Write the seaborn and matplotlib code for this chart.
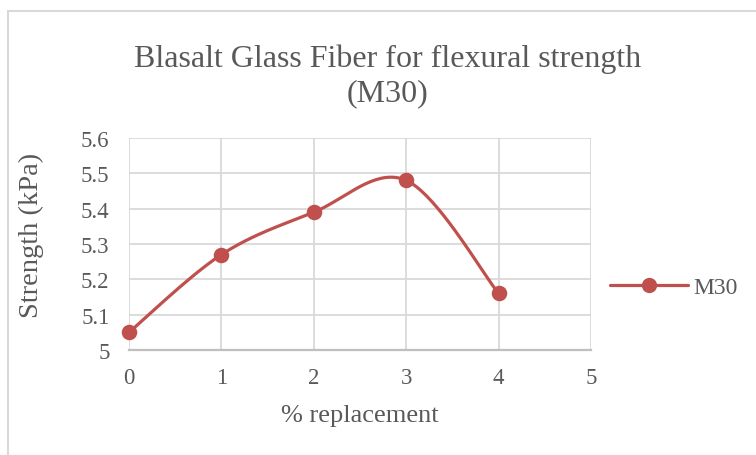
import numpy as np
import pandas as pd
import matplotlib
matplotlib.use("Agg")
import matplotlib.pyplot as plt
from matplotlib.lines import Line2D
from matplotlib.patches import Rectangle
import seaborn as sns

# Data
replacement = [0, 1, 2, 3, 4]
strength = [5.05, 5.27, 5.39, 5.48, 5.16]
series_name = "M30"
title = "Blasalt Glass Fiber for flexural strength\n(M30)"
x_label = "% replacement"
y_label = "Strength (kPa)"
x_ticks = [0, 1, 2, 3, 4, 5]
y_ticks = [5, 5.1, 5.2, 5.3, 5.4, 5.5, 5.6]

sns.set_theme(style="white")
plt.rcParams['font.family'] = ['Liberation Serif', 'DejaVu Serif']

LINE = "#C0504D"
TEXT = "#595959"
GRID = "#D9D9D9"

fig = plt.figure(figsize=(7.56, 4.56), dpi=100)
W, H = 756, 456
# chart border
fig.patches.append(Rectangle((8 / W, -0.1), 1.2, (H - 12) / H + 0.1, transform=fig.transFigure,
                             fill=False, edgecolor="#D9D9D9", linewidth=1.5))

L, R, T, B = 129, 591, 139, 351
ax = fig.add_axes([L / W, (H - B) / H, (R - L) / W, (B - T) / H])


def smooth(xs, ys, n=40):
    """Excel-like smoothed line: cubic Bezier segments with Catmull-Rom control points."""
    xs = np.asarray(xs, float)
    ys = np.asarray(ys, float)
    P = np.column_stack([xs, ys])
    out = []
    for i in range(len(P) - 1):
        p0 = P[i - 1] if i > 0 else P[i]
        p1 = P[i]
        p2 = P[i + 1]
        p3 = P[i + 2] if i + 2 < len(P) else P[i + 1]
        c1 = p1 + (p2 - p0) / 6.0
        c2 = p2 - (p3 - p1) / 6.0
        t = np.linspace(0, 1, n)[:, None]
        seg = ((1 - t) ** 3) * p1 + 3 * ((1 - t) ** 2) * t * c1 + 3 * (1 - t) * t ** 2 * c2 + t ** 3 * p2
        out.append(seg if i == 0 else seg[1:])
    arr = np.vstack(out)
    return arr[:, 0], arr[:, 1]


sx, sy = smooth(replacement, strength)
curve = pd.DataFrame({"x": sx, "y": sy})
sns.lineplot(data=curve, x="x", y="y", sort=False, estimator=None, ax=ax,
             color=LINE, linewidth=2.3, legend=False, zorder=3)
pts = pd.DataFrame({"x": replacement, "y": strength})
sns.scatterplot(data=pts, x="x", y="y", ax=ax, color=LINE, s=125,
                edgecolor=LINE, linewidth=0, zorder=4, legend=False, clip_on=False)

ax.set_xlim(0, 5)
ax.set_ylim(5, 5.6)
ax.set_xticks(x_ticks)
ax.set_yticks(y_ticks)
ax.set_xticklabels([str(v) for v in x_ticks])
ax.set_yticklabels(["5" if v == 5 else f"{v:.1f}" for v in y_ticks])
ax.grid(True, color=GRID, linewidth=1.3)
for s in ["top", "right", "left"]:
    ax.spines[s].set_visible(False)
ax.spines["bottom"].set_color("#BFBFBF")
ax.spines["bottom"].set_linewidth(1.6)
ax.tick_params(axis="both", length=0, labelsize=16.5, colors=TEXT)
ax.tick_params(axis="x", pad=12)
ax.tick_params(axis="y", pad=14)
ax.set_axisbelow(True)

ax.set_xlabel(x_label, fontsize=19, color=TEXT)
ax.xaxis.set_label_coords((360 - L) / (R - L), (B - 416) / (B - T))
ax.xaxis.label.set_va("center")
ax.set_ylabel(y_label, fontsize=20.5, color=TEXT)
ax.yaxis.set_label_coords((31 - L) / (R - L), (B - 235) / (B - T))
ax.yaxis.label.set_va("center")

fig.text(388 / W, 1 - 76 / H, title, ha="center", va="center",
         fontsize=23, color=TEXT, linespacing=1.25)

handle = Line2D([], [], color=LINE, linewidth=2.3, marker="o", markersize=11,
                markeredgewidth=0)
leg = fig.legend([handle], [series_name], loc="center left",
                 bbox_to_anchor=(589 / W, 1 - 288 / H), frameon=False,
                 fontsize=17, handlelength=3.3, handletextpad=0.2)
for t in leg.get_texts():
    t.set_color(TEXT)

fig.savefig("out.png", dpi=100)
